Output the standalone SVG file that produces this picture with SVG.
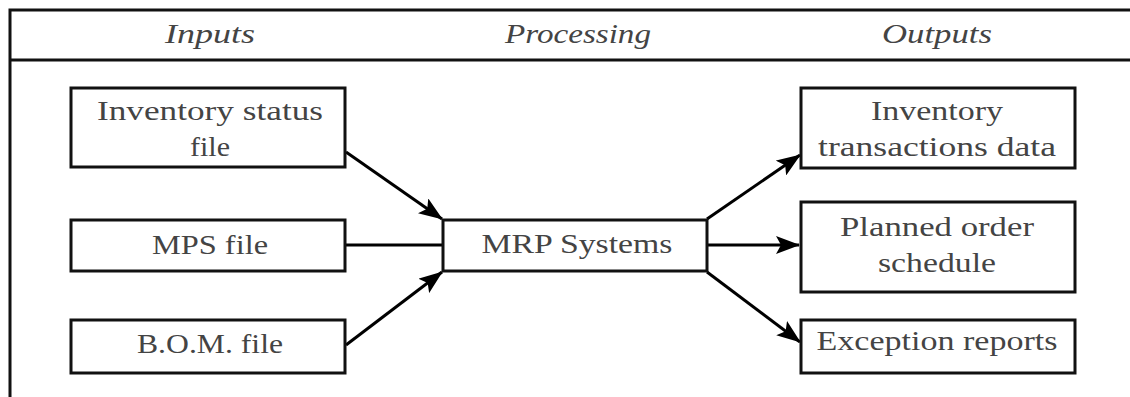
<svg xmlns="http://www.w3.org/2000/svg" width="1130" height="397" viewBox="0 0 1130 397">
  <style>
    .frame { fill: none; stroke: #111; stroke-width: 3; }
    .box { fill: #fff; stroke: #111; stroke-width: 3; }
    .edge { fill: none; stroke: #000; stroke-width: 3; }
    .lbl { font-family: 'Liberation Serif', 'Times New Roman', Times, serif; font-size: 28px; fill: #444; text-anchor: middle; }
    .hdr { font-family: 'Liberation Serif', 'Times New Roman', Times, serif; font-size: 28px; font-style: italic; fill: #444; text-anchor: middle; }
  </style>
  <defs>
    <marker id="arrow" viewBox="0 0 24 18" refX="23" refY="9" markerWidth="24" markerHeight="18" markerUnits="userSpaceOnUse" orient="auto">
      <path d="M0,0 L24,9 L0,18 L5,9 Z" fill="#000"/>
    </marker>
  </defs>

  <rect width="1130" height="397" fill="#fff"/>

  <!-- table frame with column headings -->
  <g id="frame">
    <path class="frame" d="M1130,10 H10 V397"/>
    <line class="frame" x1="10" y1="60" x2="1130" y2="60"/>
    <text class="hdr" x="210" y="43" textLength="90" lengthAdjust="spacingAndGlyphs">Inputs</text>
    <text class="hdr" x="578" y="43" textLength="146" lengthAdjust="spacingAndGlyphs">Processing</text>
    <text class="hdr" x="937" y="43" textLength="110" lengthAdjust="spacingAndGlyphs">Outputs</text>
  </g>

  <!-- connectors -->
  <g id="connectors">
    <line class="edge" x1="346" y1="152" x2="442" y2="219" marker-end="url(#arrow)"/>
    <line class="edge" x1="346" y1="245" x2="443" y2="245"/>
    <line class="edge" x1="346" y1="345" x2="442" y2="272" marker-end="url(#arrow)"/>
    <line class="edge" x1="707" y1="219" x2="800" y2="155" marker-end="url(#arrow)"/>
    <line class="edge" x1="707" y1="245" x2="799" y2="245" marker-end="url(#arrow)"/>
    <line class="edge" x1="707" y1="272" x2="800" y2="342" marker-end="url(#arrow)"/>
  </g>

  <!-- input files -->
  <g id="inventory-status-file">
    <rect class="box" x="71" y="88" width="274" height="79"/>
    <text class="lbl" x="210" y="120" textLength="226" lengthAdjust="spacingAndGlyphs">Inventory status</text>
    <text class="lbl" x="210" y="156" textLength="40" lengthAdjust="spacingAndGlyphs">file</text>
  </g>
  <g id="mps-file">
    <rect class="box" x="71" y="220" width="274" height="51"/>
    <text class="lbl" x="210" y="254" textLength="116" lengthAdjust="spacingAndGlyphs">MPS file</text>
  </g>
  <g id="bom-file">
    <rect class="box" x="71" y="320" width="274" height="53"/>
    <text class="lbl" x="210" y="353" textLength="146" lengthAdjust="spacingAndGlyphs">B.O.M. file</text>
  </g>

  <!-- processing -->
  <g id="mrp-systems">
    <rect class="box" x="443" y="220" width="264" height="51"/>
    <text class="lbl" x="577" y="253" textLength="191" lengthAdjust="spacingAndGlyphs">MRP Systems</text>
  </g>

  <!-- outputs -->
  <g id="inventory-transactions-data">
    <rect class="box" x="801" y="88" width="274" height="80"/>
    <text class="lbl" x="937" y="120" textLength="132" lengthAdjust="spacingAndGlyphs">Inventory</text>
    <text class="lbl" x="937" y="156" textLength="238" lengthAdjust="spacingAndGlyphs">transactions data</text>
  </g>
  <g id="planned-order-schedule">
    <rect class="box" x="801" y="202" width="274" height="90"/>
    <text class="lbl" x="937" y="236" textLength="194" lengthAdjust="spacingAndGlyphs">Planned order</text>
    <text class="lbl" x="937" y="272" textLength="118" lengthAdjust="spacingAndGlyphs">schedule</text>
  </g>
  <g id="exception-reports">
    <rect class="box" x="801" y="320" width="274" height="53"/>
    <text class="lbl" x="937" y="350" textLength="241" lengthAdjust="spacingAndGlyphs">Exception reports</text>
  </g>
</svg>
